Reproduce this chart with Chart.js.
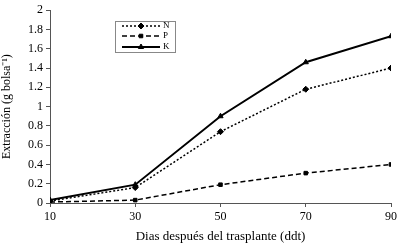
<!DOCTYPE html>
<html>
<head>
<meta charset="utf-8">
<script src="https://cdn.jsdelivr.net/npm/chart.js@4"></script>
<style>
  html, body { margin: 0; padding: 0; background: #fff; }
  #wrap { width: 400px; height: 244px; }
</style>
</head>
<body>
<div id="wrap"><canvas id="grafico"></canvas></div>
<script>
// datos
const dias = [10, 30, 50, 70, 90];
const extraccionN = [0.02, 0.16, 0.74, 1.18, 1.40];
const extraccionP = [0.01, 0.03, 0.19, 0.31, 0.40];
const extraccionK = [0.03, 0.19, 0.90, 1.46, 1.73];

const fuente = "'Liberation Serif', 'Times New Roman', serif";

const series = [
    { label: "N", data: extraccionN, dash: [2, 2], width: 1.5, punto: "rectRot", radio: 3 },
    { label: "P", data: extraccionP, dash: [5, 3], width: 1.5, punto: "rect", radio: 2.5 },
    { label: "K", data: extraccionK, dash: [], width: 2, punto: "triangle", radio: 3 }
];

// leyenda dentro del area del grafico
const leyendaInterna = {
    id: "leyendaInterna",
    afterDraw(chart) {
        const ctx = chart.ctx;
        const x0 = 115, y0 = 21, w = 60, h = 31;
        ctx.save();
        ctx.fillStyle = "#fff";
        ctx.fillRect(x0, y0, w, h);
        ctx.strokeStyle = "#888";
        ctx.lineWidth = 1;
        ctx.strokeRect(x0 + 0.5, y0 + 0.5, w, h);
        const filas = [26, 36, 47];
        series.forEach((s, i) => {
            const y = filas[i];
            ctx.strokeStyle = "#000";
            ctx.fillStyle = "#000";
            ctx.lineWidth = s.width;
            ctx.setLineDash(s.dash);
            ctx.beginPath();
            ctx.moveTo(122, y);
            ctx.lineTo(160, y);
            ctx.stroke();
            ctx.setLineDash([]);
            ctx.lineWidth = 1;
            Chart.helpers.drawPoint(ctx, { pointStyle: s.punto, radius: s.radio, borderWidth: 1 }, 141, y);
            ctx.font = "9px " + fuente;
            ctx.textBaseline = "middle";
            ctx.fillText(s.label, 163, y);
        });
        ctx.restore();
    }
};

const ctx = document.getElementById("grafico").getContext("2d");

new Chart(ctx, {
    type: "line",
    data: {
        datasets: series.map(s => ({
            label: s.label,
            data: dias.map((d, i) => ({ x: d, y: s.data[i] })),
            borderColor: "#000",
            backgroundColor: "#000",
            borderWidth: s.width,
            borderDash: s.dash,
            pointStyle: s.punto,
            pointRadius: s.radio,
            pointBorderWidth: 1,
            tension: 0
        }))
    },
    options: {
        responsive: true,
        maintainAspectRatio: false,
        animation: false,
        layout: { padding: { top: 9, right: 6 } },
        plugins: {
            legend: { display: false },
            tooltip: { enabled: false }
        },
        scales: {
            x: {
                type: "linear",
                min: 10,
                max: 90,
                afterFit: s => { s.height = 41; },
                afterBuildTicks: s => { s.ticks = dias.map(v => ({ value: v })); },
                border: { color: "#555", width: 1 },
                grid: { drawOnChartArea: false, tickLength: 4, color: "#555" },
                ticks: { color: "#000", font: { family: fuente, size: 12 }, padding: 3 },
                title: {
                    display: true,
                    text: "Dias después del trasplante (ddt)",
                    color: "#000",
                    font: { family: fuente, size: 13 },
                    padding: { top: 2, bottom: 0 }
                }
            },
            y: {
                min: 0,
                max: 2,
                afterFit: s => { s.width = 50; },
                border: { color: "#555", width: 1 },
                grid: { drawOnChartArea: false, tickLength: 4, color: "#555" },
                ticks: {
                    stepSize: 0.2,
                    color: "#000",
                    font: { family: fuente, size: 12 },
                    padding: 3,
                    callback: v => String(+v.toFixed(1))
                },
                title: {
                    display: true,
                    text: "Extracción (g bolsa⁻¹)",
                    color: "#000",
                    font: { family: fuente, size: 12 },
                    padding: { top: 0, bottom: 0 }
                }
            }
        }
    },
    plugins: [leyendaInterna]
});
</script>
</body>
</html>
